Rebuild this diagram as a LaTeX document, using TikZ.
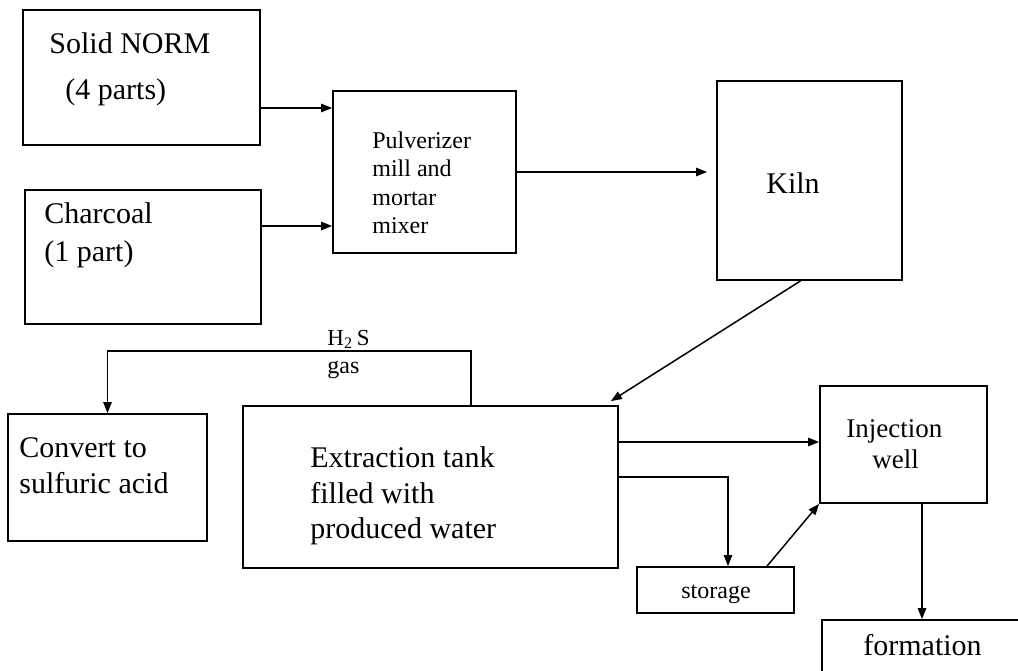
\documentclass[tikz,border=0pt]{standalone}
\usepackage{fontspec}
\setmainfont{Liberation Serif}
\usetikzlibrary{arrows.meta, positioning}

\begin{document}
\begin{tikzpicture}[
      x=0.5pt, y=-0.5pt,
      box/.style={draw, line width=0.9pt, inner sep=0pt},
      txt/.style={anchor=base west, inner sep=0pt, font=\fontsize{15}{18}\selectfont},
      small/.style={txt, font=\fontsize{12}{14}\selectfont},
      arr/.style={-{Triangle[length=5.5pt, width=4.2pt]}, line width=0.75pt}
    ]
    \useasboundingbox (0,0) rectangle (1018,670);
    \clip (0,0) rectangle (1018,670);
    % boxes
    \node[box, minimum width=118.5pt, minimum height=67.5pt] (norm) at (141.5,77.5) {};
    \node[box, minimum width=118pt, minimum height=67pt] (coal) at (143,257) {};
    \node[box, minimum width=91.5pt, minimum height=81pt] (mill) at (424.5,172) {};
    \node[box, minimum width=92.5pt, minimum height=99.5pt] (kiln) at (809.5,180.5) {};
    \node[box, minimum width=99.5pt, minimum height=63.5pt] (acid) at (107.5,477.5) {};
    \node[box, minimum width=187.5pt, minimum height=81pt] (tank) at (430.5,487) {};
    \node[box, minimum width=83.5pt, minimum height=58.5pt] (well) at (903.5,444.5) {};
    \node[box, minimum width=78.5pt, minimum height=23pt] (store) at (715.5,590) {};
    \node[box, minimum width=109pt, minimum height=40pt] (form) at (931,660) {};
    % texts
    \node[txt] (normA) at (49,53) {Solid NORM};
    \node[txt] (normB) at (65,99) {(4 parts)};
    \node[txt] (coalA) at (44,223) {Charcoal};
    \node[txt] (coalB) at (44,261) {(1 part)};
    \node[small] (millA) at (372,148) {Pulverizer};
    \node[small] (millB) at (372,176) {mill and};
    \node[small] (millC) at (372,205) {mortar};
    \node[small] (millD) at (372,233) {mixer};
    \node[txt] (kilnA) at (766,193) {Kiln};
    \node[txt] (acidA) at (19,457) {Convert to};
    \node[txt] (acidB) at (19,493) {sulfuric acid};
    \node[txt] (tankA) at (310,467) {Extraction tank};
    \node[txt] (tankB) at (310,503) {filled with};
    \node[txt] (tankC) at (310,538) {produced water};
    \node[txt, font=\fontsize{13.5}{16}\selectfont] (wellA) at (846,437) {Injection};
    \node[txt, font=\fontsize{13.5}{16}\selectfont] (wellB) at (872,468) {well};
    \node[small] (storeA) at (681,598) {storage};
    \node[txt] (formA) at (863,655) {formation};
    \node[small, font=\fontsize{11.5}{14}\selectfont] (h2s) at (327,345) {H\textsubscript{2}\,S};
    \node[small] (gas) at (327,373) {gas};
    % connectors
    \draw[arr] (norm.east |- 0,108) -- (mill.west |- 0,108);
    \draw[arr] (coal.east |- 0,226) -- (mill.west |- 0,226);
    \draw[arr, shorten >=4.5pt] (mill.east) -- (kiln.west |- mill.east);
    \draw[arr] ([xshift=-4.5pt]kiln.south) -- ([xshift=-4pt, yshift=2pt]tank.north east);
    \draw[arr] ([xshift=20.25pt]tank.north) -- ++(0,-54) -| (acid.north);
    \draw[arr] (tank.east |- 0,442) -- (well.west |- 0,442);
    \draw[arr] (tank.east |- 0,477) -| ([xshift=6.25pt]store.north);
    \draw[arr] ([xshift=25.75pt]store.north) -- (well.south west);
    \draw[arr] ([xshift=9.25pt]well.south) -- ([xshift=9.25pt]well.south |- form.north);
\end{tikzpicture}
\end{document}
